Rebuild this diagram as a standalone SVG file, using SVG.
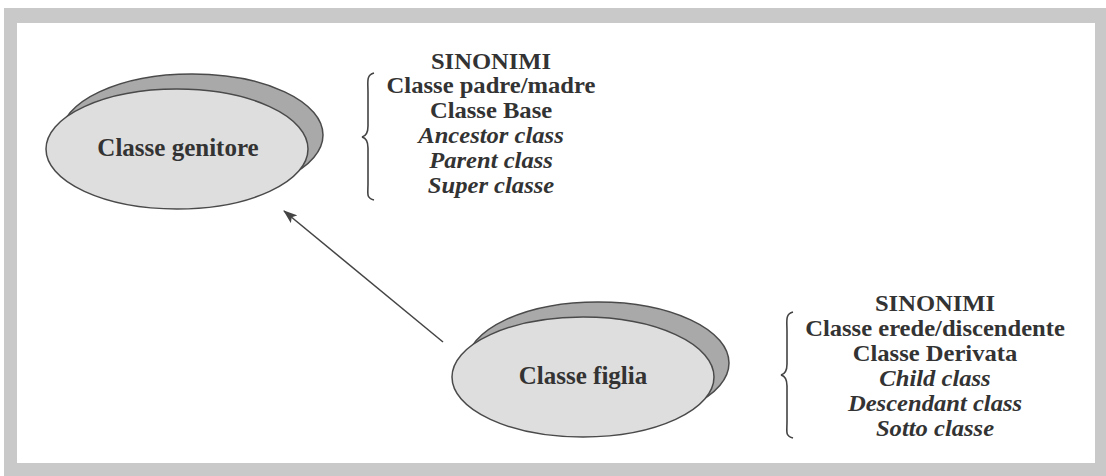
<svg xmlns="http://www.w3.org/2000/svg" width="1106" height="476" viewBox="0 0 1106 476">
<style>
.frame{fill:#c9c9c9;fill-rule:evenodd}
.back{fill:#a9a9a9;stroke:#4a4a4a;stroke-width:1.5}
.front{fill:#dedede;stroke:#4a4a4a;stroke-width:1.5}
.lbl{font-family:"Liberation Serif","Times New Roman",serif;font-weight:bold;font-size:25px;fill:#333;text-anchor:middle}
.syn{font-family:"Liberation Serif","Times New Roman",serif;font-weight:bold;font-size:23px;fill:#333;text-anchor:middle}
.it{font-style:italic}
.brace{fill:none;stroke:#444;stroke-width:1.6}
.conn{stroke:#444;stroke-width:1.5;fill:none}
</style>
<defs>
<marker id="ah" markerWidth="14" markerHeight="10" refX="13" refY="5" orient="auto" markerUnits="userSpaceOnUse">
<path d="M0,0 L14,5 L0,10 L3,5 Z" fill="#444"/>
</marker>
</defs>
<rect x="0" y="0" width="1106" height="476" fill="#fff"/>
<path class="frame" d="M4,8 H1106 V476 H4 Z M17,23 V463 H1095 V23 Z"/>

<g id="connectors">
<line class="conn" x1="443" y1="342" x2="284" y2="211" marker-end="url(#ah)"/>
</g>

<g id="classe-genitore">
<ellipse class="back" cx="192" cy="135" rx="131" ry="61"/>
<ellipse class="front" cx="177" cy="149" rx="131" ry="60"/>
<text class="lbl" x="178" y="156">Classe genitore</text>
</g>

<g id="sinonimi-genitore">
<path class="brace" d="M374,73 C366,75 368,82 368,92 V126 C368,133 366,136 362,137 C366,138 368,141 368,148 V184 C368,194 366,198 374,200"/>
<g transform="translate(491,0) scale(1.07,1)">
<text class="syn" x="0" y="69">SINONIMI</text>
<text class="syn" x="0" y="93">Classe padre/madre</text>
<text class="syn" x="0" y="118">Classe Base</text>
<text class="syn it" x="0" y="143">Ancestor class</text>
<text class="syn it" x="0" y="168">Parent class</text>
<text class="syn it" x="0" y="193">Super classe</text>
</g>
</g>

<g id="classe-figlia">
<ellipse class="back" cx="598" cy="363" rx="131" ry="61"/>
<ellipse class="front" cx="583" cy="377" rx="131" ry="60"/>
<text class="lbl" x="583" y="384">Classe figlia</text>
</g>

<g id="sinonimi-figlia">
<path class="brace" d="M793,312 C785,314 787,321 787,331 V364 C787,371 785,374 781,375 C785,376 787,379 787,386 V422 C787,432 785,436 793,438"/>
<g transform="translate(935,0) scale(1.07,1)">
<text class="syn" x="0" y="311">SINONIMI</text>
<text class="syn" x="0" y="336">Classe erede/discendente</text>
<text class="syn" x="0" y="361">Classe Derivata</text>
<text class="syn it" x="0" y="386">Child class</text>
<text class="syn it" x="0" y="411">Descendant class</text>
<text class="syn it" x="0" y="436">Sotto classe</text>
</g>
</g>
</svg>
